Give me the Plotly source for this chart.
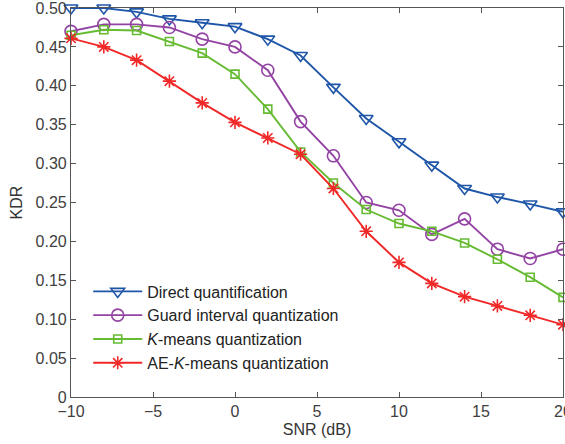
import plotly.graph_objects as go

snr = [-10, -8, -6, -4, -2, 0, 2, 4, 6, 8, 10, 12, 14, 16, 18, 20]
direct = [0.500, 0.500, 0.495, 0.486, 0.481, 0.476, 0.460, 0.439, 0.398, 0.358, 0.328, 0.298, 0.268, 0.257, 0.248, 0.238]
guard = [0.470, 0.479, 0.479, 0.475, 0.460, 0.450, 0.420, 0.354, 0.310, 0.250, 0.240, 0.209, 0.229, 0.190, 0.178, 0.190]
kmeans = [0.465, 0.472, 0.471, 0.457, 0.442, 0.415, 0.370, 0.315, 0.275, 0.241, 0.223, 0.213, 0.198, 0.177, 0.154, 0.128]
aekmeans = [0.461, 0.450, 0.433, 0.406, 0.378, 0.353, 0.333, 0.312, 0.268, 0.213, 0.173, 0.146, 0.129, 0.117, 0.105, 0.093]

names = ["Direct quantification", "Guard interval quantization",
         "<i>K</i>-means quantization", "AE-<i>K</i>-means quantization"]
colors = ["#1f56a8", "#9343a3", "#66bb33", "#f02828"]
symbols = ["triangle-down-open", "circle-open", "square-open", "asterisk-open"]
sizes = [12, 12, 8, 11]
series = [direct, guard, kmeans, aekmeans]

y_ticks = [0, 0.05, 0.10, 0.15, 0.20, 0.25, 0.30, 0.35, 0.40, 0.45, 0.50]
y_labels = ["0", "0.05", "0.10", "0.15", "0.20", "0.25", "0.30", "0.35", "0.40", "0.45", "0.50"]
x_ticks = [-10, -5, 0, 5, 10, 15, 20]
x_labels = ["\u221210", "\u22125", "0", "5", "10", "15", "20"]

fig = go.Figure()
for n, c, s, sz, v in zip(names, colors, symbols, sizes, series):
    fig.add_trace(go.Scatter(
        x=snr, y=v, name=n, mode="lines+markers",
        line=dict(color=c, width=1.9),
        marker=dict(symbol=s, size=sz, color=c, line=dict(color=c, width=1.6)),
        cliponaxis=False,
    ))

axis_common = dict(
    showline=True, linecolor="#555555", linewidth=1.2, mirror="ticks",
    ticks="inside", ticklen=5, tickcolor="#555555", showgrid=False,
    zeroline=False, tickfont=dict(size=16, color="#404040"),
    automargin=False, ticklabeloverflow="allow",
)

fig.update_layout(
    width=565, height=444,
    margin=dict(l=71, r=2, t=8, b=47),
    paper_bgcolor="white", plot_bgcolor="white",
    font=dict(family="Liberation Sans, Arial, sans-serif", size=16, color="#222222"),
    xaxis=dict(range=[-10, 20], tickvals=x_ticks, ticktext=x_labels,
               title=dict(text="SNR (dB)", standoff=4, font=dict(size=16, color="#333333")),
               **axis_common),
    yaxis=dict(range=[0, 0.5], tickvals=y_ticks, ticktext=y_labels,
               title=dict(text="KDR", standoff=8, font=dict(size=16, color="#333333")),
               **axis_common),
    legend=dict(x=0.035, y=0.315, xanchor="left", yanchor="top",
                bgcolor="rgba(255,255,255,0)", borderwidth=0, itemwidth=49,
                font=dict(size=16, color="#222222")),
    showlegend=True,
)

fig.write_html("out.html", config={"displayModeBar": False},
               post_script="document.body.style.margin='0';document.body.style.overflow='hidden';")
